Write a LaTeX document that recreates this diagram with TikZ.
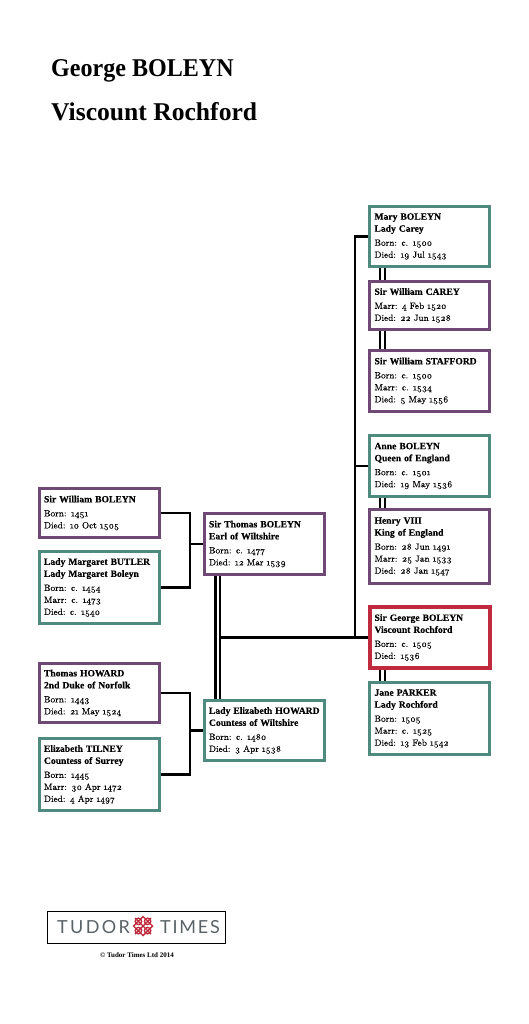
\documentclass[tikz,border=0pt]{standalone}
\usepackage{fontspec}
\setmainfont{Liberation Serif}
\newfontfamily\datefont[Numbers=OldStyle,WordSpace=0.55,FakeBold=0.25]{Latin Modern Roman}
\newfontfamily\logofont[LetterSpace=10]{Lato}
\newfontfamily\namefont[FakeBold=0.3]{Liberation Serif Bold}
\newcommand{\who}[1]{\mbox{\namefont\fontsize{9.6}{12}\selectfont #1}}
\definecolor{tudorteal}{HTML}{4F8A7E}
\definecolor{tudorplum}{HTML}{6F4876}
\definecolor{tudorred}{HTML}{C02A3E}
\definecolor{logogrey}{HTML}{5A6266}
\tikzset{
  person/.style={draw, line width=3pt, fill=white, text=black, align=left, text width=110pt,
    minimum width=120pt, inner xsep=4.8pt, inner ysep=0pt,
    font=\fontsize{9}{12}\selectfont\datefont},
  female/.style={person, draw=tudorteal},
  male/.style={person, draw=tudorplum},
  subject/.style={person, draw=tudorred, line width=4pt},
  stem/.style={draw=black, line width=2.6pt},
  marriage/.style={draw=black, double=white, double distance=2.6pt, line width=2.2pt},
  headline/.style={anchor=base west, inner sep=0pt, font=\fontsize{25.6}{30}\selectfont\bfseries}
}
\begin{document}
\begin{tikzpicture}[x=1pt, y=-1pt]
  \useasboundingbox (0,0) rectangle (529,1024);

  % Title
  \node [headline] (title) at (51,77) {\scalebox{0.94}[1]{George BOLEYN}};
  \node [headline] (subtitle) at (51,121) {Viscount Rochford};

  % Siblings and spouses
  \node [female, minimum width=120pt, minimum height=60pt] (mary) at (429.5,236.5)
    {\who{Mary BOLEYN}\\\who{Lady Carey}\\[2pt]Born: c. 1500\\Died: 19 Jul 1543};
  \node [male, minimum height=48pt] (carey) at (429.5,305.5)
    {\who{Sir William CAREY}\\[2pt]Marr: 4 Feb 1520\\Died: 22 Jun 1528};
  \node [male, minimum height=61pt] (stafford) at (429.5,381)
    {\who{Sir William STAFFORD}\\[2pt]Born: c. 1500\\Marr: c. 1534\\Died: 5 May 1556};
  \node [female, minimum height=61pt] (anne) at (429.5,466)
    {\who{Anne BOLEYN}\\\who{Queen of England}\\[2pt]Born: c. 1501\\Died: 19 May 1536};
  \node [male, minimum height=74pt] (henry) at (429.5,546.5)
    {\who{Henry VIII}\\\who{King of England}\\[2pt]Born: 28 Jun 1491\\Marr: 25 Jan 1533\\Died: 28 Jan 1547};
  \node [subject, minimum height=61pt] (george) at (429.5,637.5)
    {\who{Sir George BOLEYN}\\\who{Viscount Rochford}\\[2pt]Born: c. 1505\\Died: 1536};
  \node [female, minimum height=72pt] (jane) at (429.5,718.5)
    {\who{Jane PARKER}\\\who{Lady Rochford}\\[2pt]Born: 1505\\Marr: c. 1525\\Died: 13 Feb 1542};

  % Parents
  \node [male, minimum height=61pt] (thomas) at (264,544)
    {\who{Sir Thomas BOLEYN}\\\who{Earl of Wiltshire}\\[2pt]Born: c. 1477\\Died: 12 Mar 1539};
  \node [female, minimum height=60pt] (elizabeth) at (264,730.5)
    {\who{Lady Elizabeth HOWARD}\\\who{Countess of Wiltshire}\\[2pt]Born: c. 1480\\Died: 3 Apr 1538};

  % Grandparents
  \node [male, minimum height=49pt] (william) at (99,513)
    {\who{Sir William BOLEYN}\\[2pt]Born: 1451\\Died: 10 Oct 1505};
  \node [female, minimum height=72pt] (margaret) at (99,587.5)
    {\who{Lady Margaret BUTLER}\\\who{Lady Margaret Boleyn}\\[2pt]Born: c. 1454\\Marr: c. 1473\\Died: c. 1540};
  \node [male, minimum height=59pt] (howard) at (99,693)
    {\who{Thomas HOWARD}\\\who{2nd Duke of Norfolk}\\[2pt]Born: 1443\\Died: 21 May 1524};
  \node [female, minimum height=72pt] (tilney) at (99,774.5)
    {\who{Elizabeth TILNEY}\\\who{Countess of Surrey}\\[2pt]Born: 1445\\Marr: 30 Apr 1472\\Died: 4 Apr 1497};

  % Edges
  \coordinate (boleynjoin) at (190,544);
  \coordinate (howardjoin) at (190,730.5);
  \coordinate (trunk) at (355,637.5);
  \coordinate (drop) at (220,637.5);

  \draw [stem] (william.east) -| (boleynjoin);
  \draw [stem] (margaret.east) -| (boleynjoin);
  \draw [stem] (boleynjoin) -- (thomas.west);
  \draw [stem] (howard.east) -| (howardjoin);
  \draw [stem] (tilney.east) -| (howardjoin);
  \draw [stem] (howardjoin) -- (elizabeth.west);

  \draw [marriage] ([xshift=-46.2pt]thomas.south) -- ([xshift=-46.2pt]elizabeth.north);
  \draw [stem] (george.west) -- (drop);
  \draw [stem] (mary.west) -| (trunk);
  \draw [stem] (anne.west) -- (anne.west -| trunk);

  \draw [marriage] ([xshift=-47pt]mary.south) -- ([xshift=-47pt]carey.north);
  \draw [marriage] ([xshift=-47pt]carey.south) -- ([xshift=-47pt]stafford.north);
  \draw [marriage] ([xshift=-47pt]anne.south) -- ([xshift=-47pt]henry.north);
  \draw [marriage] ([xshift=-47pt]george.south) -- ([xshift=-47pt]jane.north);

  % Logo
  \node [draw=black, line width=0.8pt, minimum width=178pt, minimum height=32pt, inner sep=0pt] (logo) at (136,927) {};
  \draw [black, line width=1.6pt] (logo.south west) -- (logo.south east);
  \node [anchor=base west, inner sep=0pt, text=logogrey, font=\fontsize{18}{20}\selectfont\logofont\addfontfeature{LetterSpace=13}] (tudor) at (57,933) {TUDOR};
  \node [anchor=base west, inner sep=0pt, text=logogrey, font=\fontsize{18}{20}\selectfont\logofont] (times) at (160,933) {TIMES};
  \begin{scope}[shift={(143,926)}, tudorred, line width=1.4pt]
    \draw (-9.5,0) -- (0,-9.5) -- (9.5,0) -- (0,9.5) -- cycle;
    \foreach \a in {45,135,225,315}
      \draw (\a:6.5) circle (3.2);
    \draw (-8,-8) -- (8,8) (-8,8) -- (8,-8);
  \end{scope}
  \node [inner sep=0pt, font=\fontsize{7}{8}\selectfont\bfseries] (copyright) at (137,955) {\textcopyright{} Tudor Times Ltd 2014};
\end{tikzpicture}
\end{document}
